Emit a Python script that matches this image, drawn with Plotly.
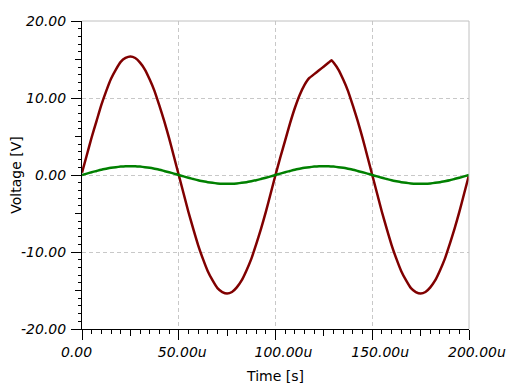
import plotly.graph_objects as go

# ---- data (time in microseconds, voltage in V) ----
red_time = [0, 2.5, 5, 7.5, 10, 12.5, 15, 17.5, 20, 22.5, 25, 27.5, 30, 32.5, 35, 37.5, 40, 42.5, 45, 47.5,
            50, 52.5, 55, 57.5, 60, 62.5, 65, 67.5, 70, 72.5, 75, 77.5, 80, 82.5, 85, 87.5, 90, 92.5, 95, 97.5,
            100, 102.5, 105, 107.5, 110, 112.5, 115, 116.5, 117.5, 120, 122.5, 125, 127.5, 129, 130, 132.5, 135,
            137.5, 140, 142.5, 145, 147.5, 150, 152.5, 155, 157.5, 160, 162.5, 165, 167.5, 170, 172.5, 175,
            177.5, 180, 182.5, 185, 187.5, 190, 192.5, 195, 197.5, 200]
red_volt = [0.3, 2.6, 4.9, 7.0, 9.1, 10.9, 12.5, 13.7, 14.7, 15.2, 15.4, 15.2, 14.6, 13.7, 12.4, 10.9, 9.0, 7.0, 4.8, 2.4,
            0.0, -2.4, -4.8, -7.0, -9.1, -10.9, -12.5, -13.7, -14.7, -15.2, -15.4, -15.2, -14.6, -13.7, -12.4, -10.9,
            -9.0, -7.0, -4.8, -2.4,
            0.0, 2.3, 4.5, 6.7, 8.7, 10.4, 11.7, 12.3, 12.6, 13.1, 13.6, 14.1, 14.6, 14.9, 14.6, 13.7, 12.4,
            10.9, 9.0, 7.0, 4.8, 2.4, 0.0, -2.4, -4.8, -7.0, -9.1, -10.9, -12.5, -13.7, -14.7, -15.2, -15.4,
            -15.2, -14.6, -13.7, -12.4, -10.9, -9.0, -7.0, -4.8, -2.4, 0.0]

green_time = [0, 2.5, 5, 7.5, 10, 12.5, 15, 17.5, 20, 22.5, 25, 27.5, 30, 32.5, 35, 37.5, 40, 42.5, 45, 47.5,
              50, 52.5, 55, 57.5, 60, 62.5, 65, 67.5, 70, 72.5, 75, 77.5, 80, 82.5, 85, 87.5, 90, 92.5, 95, 97.5,
              100, 102.5, 105, 107.5, 110, 112.5, 115, 117.5, 120, 122.5, 125, 127.5, 130, 132.5, 135, 137.5,
              140, 142.5, 145, 147.5, 150, 152.5, 155, 157.5, 160, 162.5, 165, 167.5, 170, 172.5, 175, 177.5,
              180, 182.5, 185, 187.5, 190, 192.5, 195, 197.5, 200]
green_volt = [0.0, 0.18, 0.36, 0.52, 0.68, 0.81, 0.93, 1.02, 1.09, 1.14, 1.15, 1.14, 1.09, 1.02, 0.93, 0.81, 0.68, 0.52, 0.36, 0.18,
              0.0, -0.18, -0.36, -0.52, -0.68, -0.81, -0.93, -1.02, -1.09, -1.14, -1.15, -1.14, -1.09, -1.02, -0.93, -0.81,
              -0.68, -0.52, -0.36, -0.18,
              0.0, 0.18, 0.36, 0.52, 0.68, 0.81, 0.93, 1.02, 1.09, 1.14, 1.15, 1.14, 1.09, 1.02, 0.93, 0.81, 0.68, 0.52,
              0.36, 0.18, 0.0, -0.18, -0.36, -0.52, -0.68, -0.81, -0.93, -1.02, -1.09, -1.14, -1.15, -1.14, -1.09,
              -1.02, -0.93, -0.81, -0.68, -0.52, -0.36, -0.18, 0.0]

x_tickvals = [0, 50, 100, 150, 200]
x_ticktext = ["0.00", "50.00u", "100.00u", "150.00u", "200.00u"]
x_mid_ticks = [25, 75, 125, 175]
y_tickvals = [-20, -10, 0, 10, 20]
y_ticktext = ["-20.00", "-10.00", "0.00", "10.00", "20.00"]
y_mid_ticks = [-15, -5, 5, 15]

FONT = "DejaVu Sans"
tickfont = dict(family=FONT, size=14, color="#000000", style="italic")
GRID = "#c8c8c8"

fig = go.Figure()
fig.add_trace(go.Scatter(x=red_time, y=red_volt, mode="lines",
                         line=dict(color="#800000", width=2.5, shape="spline", smoothing=0.5),
                         showlegend=False))
fig.add_trace(go.Scatter(x=green_time, y=green_volt, mode="lines",
                         line=dict(color="#008000", width=2.5, shape="spline", smoothing=0.5),
                         showlegend=False))
# invisible trace to activate the secondary (medium tick) axes
fig.add_trace(go.Scatter(x=[None], y=[None], xaxis="x2", yaxis="y2", showlegend=False))

fig.update_layout(
    width=512, height=382,
    margin=dict(l=74, r=51, t=13, b=61, autoexpand=False),
    paper_bgcolor="white", plot_bgcolor="white",
    xaxis=dict(
        range=[0, 200], tickmode="array", tickvals=x_tickvals, ticktext=x_ticktext,
        ticks="outside", ticklen=10, tickcolor="black", tickwidth=1,
        showline=True, linecolor="black", linewidth=1,
        showgrid=True, gridcolor=GRID, griddash="4px,3px", gridwidth=1,
        zeroline=False, tickfont=tickfont, automargin=False,
        ticklabelposition="outside right", ticklabelshift=-22, ticklabelstandoff=10,
        minor=dict(dtick=5, tick0=0, ticks="outside", ticklen=4, tickcolor="black", showgrid=False),
        title=dict(text="Time [s]", font=dict(family=FONT, size=14, color="black"), standoff=12),
        fixedrange=True,
    ),
    yaxis=dict(
        range=[-20, 20], tickmode="array", tickvals=y_tickvals, ticktext=y_ticktext,
        ticks="outside", ticklen=10, tickcolor="black", tickwidth=1,
        showline=True, linecolor="black", linewidth=1,
        showgrid=True, gridcolor=GRID, griddash="4px,3px", gridwidth=1,
        zeroline=False, tickfont=tickfont, automargin=False, ticklabelstandoff=2,
        minor=dict(dtick=1, tick0=0, ticks="outside", ticklen=3, tickcolor="black", showgrid=False),
        title=dict(text="Voltage [V]", font=dict(family=FONT, size=14, color="black"), standoff=2),
        fixedrange=True,
    ),
    xaxis2=dict(range=[0, 200], overlaying="x", side="bottom", tickmode="array", tickvals=x_mid_ticks,
                ticks="outside", ticklen=6, tickcolor="black", showticklabels=False,
                showgrid=False, zeroline=False, showline=False, fixedrange=True),
    yaxis2=dict(range=[-20, 20], overlaying="y", side="left", tickmode="array", tickvals=y_mid_ticks,
                ticks="outside", ticklen=6, tickcolor="black", showticklabels=False,
                showgrid=False, zeroline=False, showline=False, fixedrange=True),
    shapes=[
        dict(type="line", xref="paper", yref="paper", x0=0, x1=1, y0=1, y1=1,
             line=dict(color="#c0c0c0", width=1)),
        dict(type="line", xref="paper", yref="paper", x0=1, x1=1, y0=0, y1=1,
             line=dict(color="#c0c0c0", width=1)),
    ],
)

fig.write_html("out.html")
